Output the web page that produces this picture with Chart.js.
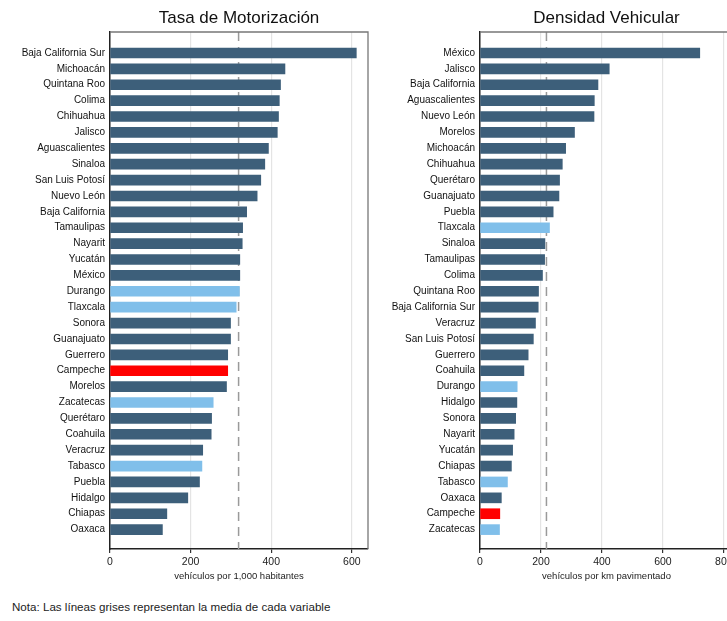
<!DOCTYPE html>
<html>
<head>
<meta charset="utf-8">
<script src="https://cdn.jsdelivr.net/npm/chart.js@4"></script>
<style>
  html, body { margin: 0; padding: 0; background: #fff; overflow: hidden; }
  body { width: 727px; height: 621px; position: relative; }
  .panel { position: absolute; top: 0; height: 590px; }
  #left { left: 0; width: 380px; }
  #right { left: 370px; width: 375px; }
  .nota {
    position: absolute; left: 12px; top: 600px;
    font: 11.6px "Liberation Sans", Arial, sans-serif;
    color: #222;
  }
</style>
</head>
<body>
<div class="panel" id="left"><canvas id="motor"></canvas></div>
<div class="panel" id="right"><canvas id="densidad"></canvas></div>
<div class="nota">Nota: Las líneas grises representan la media de cada variable</div>

<script>
// Tasa de Motorización (vehículos por 1,000 habitantes)
const motorEstados = [
  "Baja California Sur", "Michoacán", "Quintana Roo", "Colima", "Chihuahua", "Jalisco",
  "Aguascalientes", "Sinaloa", "San Luis Potosí", "Nuevo León", "Baja California",
  "Tamaulipas", "Nayarit", "Yucatán", "México", "Durango", "Tlaxcala", "Sonora",
  "Guanajuato", "Guerrero", "Campeche", "Morelos", "Zacatecas", "Querétaro", "Coahuila",
  "Veracruz", "Tabasco", "Puebla", "Hidalgo", "Chiapas", "Oaxaca"
]
const motorValores = [
  611, 434, 423, 420, 418, 415, 393, 384, 374, 365, 339, 329, 328, 322, 322, 321,
  313, 299, 299, 292, 292, 289, 256, 252, 251, 230, 228, 222, 193, 141, 130
]
const motorMedia = 319

// Densidad Vehicular (vehículos por km pavimentado)
const densEstados = [
  "México", "Jalisco", "Baja California", "Aguascalientes", "Nuevo León", "Morelos",
  "Michoacán", "Chihuahua", "Querétaro", "Guanajuato", "Puebla", "Tlaxcala", "Sinaloa",
  "Tamaulipas", "Colima", "Quintana Roo", "Baja California Sur", "Veracruz",
  "San Luis Potosí", "Guerrero", "Coahuila", "Durango", "Hidalgo", "Sonora", "Nayarit",
  "Yucatán", "Chiapas", "Tabasco", "Oaxaca", "Campeche", "Zacatecas"
]
const densValores = [
  721, 424, 387, 375, 374, 310, 281, 270, 261, 259, 240, 228, 213, 212, 205, 192,
  191, 182, 175, 158, 144, 122, 121, 117, 112, 107, 103, 90, 70, 65, 64
]
const densMedia = 218

const xTicksMotor = [0, 200, 400, 600]
const xTicksDens = [0, 200, 400, 600, 800]

// estados resaltados
const azulClaro = ["Durango", "Tlaxcala", "Zacatecas", "Tabasco"]
const rojo = ["Campeche"]

const FONT = "'Liberation Sans', Arial, sans-serif"
const COLOR_BASE = "#3d5f7a"
const COLOR_CLARO = "#80bfea"
const COLOR_ROJO = "#ff0000"

function barColor(estado) {
  if (rojo.includes(estado)) return COLOR_ROJO
  if (azulClaro.includes(estado)) return COLOR_CLARO
  return COLOR_BASE
}

// marco gris arriba/derecha + línea de la media
const framePlugin = {
  id: "frame",
  beforeDatasetsDraw(chart, args, opts) {
    const { ctx, chartArea: a } = chart
    const x = chart.scales.x.getPixelForValue(opts.media)
    ctx.save()
    ctx.strokeStyle = "#9a9a9a"
    ctx.lineWidth = 1.5
    ctx.setLineDash([9, 6])
    ctx.beginPath()
    ctx.moveTo(x, a.top)
    ctx.lineTo(x, a.bottom)
    ctx.stroke()
    ctx.restore()
  },
  afterDraw(chart) {
    const { ctx, chartArea: a } = chart
    ctx.save()
    ctx.strokeStyle = "#777"
    ctx.lineWidth = 1.3
    ctx.beginPath()
    ctx.moveTo(a.left, a.top)
    ctx.lineTo(a.right, a.top)
    ctx.lineTo(a.right, a.bottom)
    ctx.stroke()
    ctx.restore()
  }
}

function makeChart(id, titulo, etiquetaX, estados, valores, media, xMax, xTicks) {
  const n = estados.length
  return new Chart(document.getElementById(id), {
    type: "bar",
    data: {
      datasets: [{
        data: valores.map((v, i) => ({ x: v, y: i })),
        backgroundColor: estados.map(barColor),
        barThickness: 10
      }]
    },
    plugins: [framePlugin],
    options: {
      indexAxis: "y",
      responsive: true,
      maintainAspectRatio: false,
      animation: false,
      layout: { padding: { right: 12, top: 0, left: 0, bottom: 0 } },
      plugins: {
        legend: { display: false },
        tooltip: { enabled: false },
        title: {
          display: true,
          text: titulo,
          fullSize: false,
          color: "#111",
          font: { family: FONT, size: 17, weight: "normal" },
          padding: { top: 8, bottom: 3.6 }
        },
        frame: { media }
      },
      scales: {
        x: {
          type: "linear",
          min: 0,
          max: xMax,
          afterBuildTicks: (s) => { s.ticks = xTicks.map(v => ({ value: v })) },
          afterFit: (s) => { s.height = 41 },
          grid: { color: "#e4e4e4", lineWidth: 1.2, tickLength: 4, tickColor: "#333" },
          border: { color: "#222", width: 1.5 },
          ticks: { color: "#222", padding: 3, font: { family: FONT, size: 10.5 } },
          title: {
            display: true,
            text: etiquetaX,
            color: "#222",
            font: { family: FONT, size: 9.5 },
            padding: { top: 0, bottom: 8 }
          }
        },
        y: {
          type: "linear",
          reverse: true,
          offset: false,
          min: -1.32,
          max: n - 1 + 1.22,
          afterBuildTicks: (s) => { s.ticks = estados.map((_, i) => ({ value: i })) },
          afterFit: (s) => { s.width = 110 },
          grid: { display: false, drawTicks: false, offset: false },
          border: { color: "#222", width: 1.5 },
          ticks: {
            autoSkip: false,
            color: "#111",
            padding: 5,
            font: { family: FONT, size: 10 },
            callback: (v) => estados[v]
          }
        }
      }
    }
  })
}

makeChart("motor", "Tasa de Motorización", "vehículos por 1,000 habitantes",
  motorEstados, motorValores, motorMedia, 640, xTicksMotor)
makeChart("densidad", "Densidad Vehicular", "vehículos por km pavimentado",
  densEstados, densValores, densMedia, 830, xTicksDens)
</script>
</body>
</html>
